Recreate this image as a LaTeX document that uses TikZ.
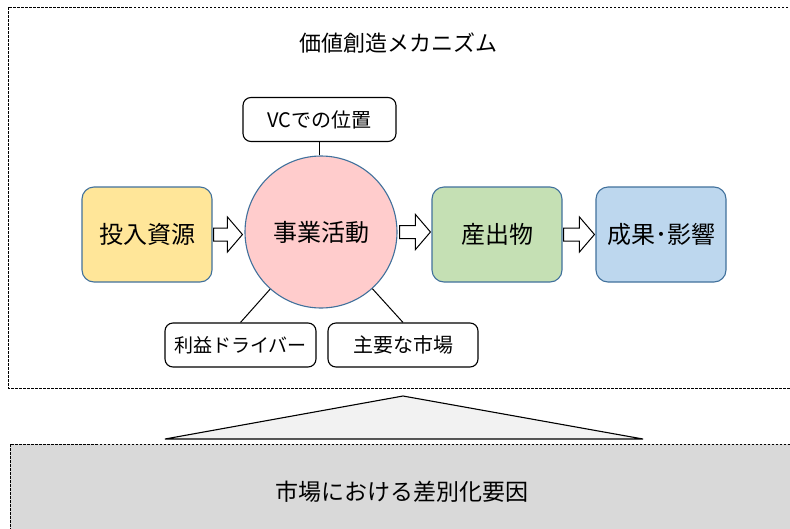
\documentclass[tikz,border=0pt]{standalone}
\usepackage{fontspec}
\setmainfont{Noto Sans CJK JP}
\usetikzlibrary{calc}
\definecolor{cyellow}{HTML}{FFE699}
\definecolor{cpink}{HTML}{FFCCCC}
\definecolor{cgreen}{HTML}{C5E0B4}
\definecolor{cblue}{HTML}{BDD7EE}
\definecolor{cborder}{HTML}{41719C}
\definecolor{ctri}{HTML}{F2F2F2}
\definecolor{cbase}{HTML}{D9D9D9}
\begin{document}
\begin{tikzpicture}[x=1pt,y=-1pt,
  box/.style={draw=cborder, line width=1.1pt, rounded corners=12pt, minimum width=130pt, minimum height=95pt, inner sep=0pt, font=\fontsize{24}{28}\selectfont},
  tag/.style={draw=black, line width=1.1pt, rounded corners=8pt, minimum height=44pt, inner sep=0pt, font=\fontsize{20}{24}\selectfont},
  link/.style={draw=black, line width=1pt},
  blockarrow/.style={draw=black, fill=white, line width=1pt,
    to path={let \p1=(\tikztostart), \p2=(\tikztotarget) in
      (\x1,\y1-6.5pt) -- (\x2-15pt,\y1-6.5pt) -- (\x2-15pt,\y1-17.5pt) -- (\x2,\y1)
      -- (\x2-15pt,\y1+17.5pt) -- (\x2-15pt,\y1+6.5pt) -- (\x1,\y1+6.5pt) -- cycle}},
  frame/.style={draw=black, line width=0.9pt, dash pattern=on 2.5pt off 1.5pt}
]
\useasboundingbox (0,0) rectangle (790,528);
\clip (0,0) rectangle (790,528);
\fill[white] (0,0) rectangle (790,528);
% frames
\draw[frame] (8,7) rectangle (805,388);
\draw[frame, fill=cbase] (10,444) rectangle (805,545);
% triangle
\filldraw[fill=ctri, draw=black, line width=1.1pt] (165,439) -- (403,396) -- (643,439) -- cycle;
% texts
\node[font=\fontsize{22}{26}\selectfont] (title) at (398,43) {価値創造メカニズム};
\node[font=\fontsize{23}{27}\selectfont] (base) at (402,492) {市場における差別化要因};
% nodes
\node[tag, minimum width=153pt] (vc) at (319.5,119.5) {VCでの位置};
\node[circle, draw=cborder, line width=1.1pt, fill=cpink, minimum size=152pt, inner sep=0pt, font=\fontsize{24}{28}\selectfont] (act) at (321,232) {事業活動};
\node[box, fill=cyellow] (in) at (147,234.5) {投入資源};
\node[box, fill=cgreen] (out) at (497,234.5) {産出物};
\node[box, fill=cblue] (res) at (661,234.5) {成果･影響};
\node[tag, minimum width=151pt, font=\fontsize{19}{23}\selectfont] (lb) at (240.5,345) {利益ドライバー};
\node[tag, minimum width=150pt] (rb) at (403,345) {主要な市場};
% links
\draw[link] (vc.south) -- (vc.south |- act.north);
\draw[link] (act) -- (lb.north);
\draw[link] (act) -- (rb.north);
% block arrows
\path[blockarrow] ([xshift=1pt]in.east) to ([xshift=-2pt]act.west);
\path[blockarrow] ([xshift=2pt]act.east) to ([xshift=-1pt]out.west);
\path[blockarrow] ([xshift=1pt]out.east) to ([xshift=-1pt]res.west);
\end{tikzpicture}
\end{document}
